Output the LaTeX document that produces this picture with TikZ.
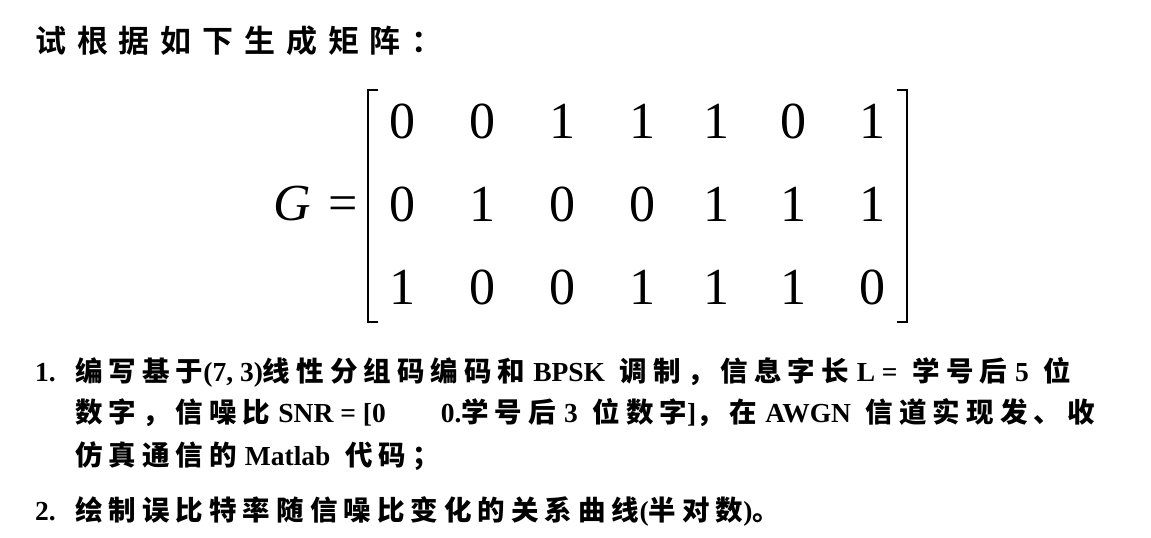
\documentclass[tikz,border=0pt]{standalone}
\usepackage{fontspec}
\setmainfont{Liberation Serif}
\newfontfamily\cjk[LetterSpace=22]{Noto Sans CJK SC Bold}
\newfontfamily\cjkt[LetterSpace=35]{Noto Sans CJK SC Bold}
\newcommand{\zh}[1]{{\cjk #1}}
\newcommand{\gp}{\hspace{8pt}}
\tikzset{line/.style={anchor=base west,inner sep=0,font=\fontsize{27.5}{32}\selectfont\bfseries},
 dig/.style={anchor=base,inner sep=0,font=\fontsize{52}{60}\selectfont}}
\begin{document}
\begin{tikzpicture}[x=1pt,y=-1pt]
\useasboundingbox[fill=white] (0,0) rectangle (1151,538);
\node[line,font=\fontsize{31}{36}\selectfont] (title) at (35,52) {{\cjkt 试根据如下生成矩阵：}};
\node[anchor=base east,inner sep=0,font=\fontsize{52}{60}\selectfont] (G) at (358,220) {\textit{G}\,\,=};
\draw[line width=2.2pt] (378,90) -- (368,90) -- (368,322) -- (378,322);
\draw[line width=2.2pt] (897,90) -- (907,90) -- (907,322) -- (897,322);
\foreach \r [count=\i] in {{0,0,1,1,1,0,1},{0,1,0,0,1,1,1},{1,0,0,1,1,1,0}}{
  \foreach \v [count=\j] in \r {
    \pgfmathsetmacro\xx{{402,482,562,642,716,793,872}[\j-1]}
    \node[dig] (m\i\j) at (\xx,55+\i*83) {\v};
  }}
\node[line] (n1) at (35,381) {1.};
\node[line] (l1) at (75,381) {\zh{编写基于}(7, 3)\zh{线性分组码编码和}\gp BPSK \gp\zh{调制，信息字长}\gp L =\gp\  \zh{学号后}\gp 5 \gp\zh{位}};
\node[line] (l2) at (75,422) {\zh{数字，信噪比}\gp SNR = [0\qquad 0.\zh{学号后}\gp 3 \gp\zh{位数字}]\zh{，在}\gp AWGN \gp\zh{信道实现发、收}};
\node[line] (l3) at (75,465) {\zh{仿真通信的}\gp Matlab \gp\zh{代码；}};
\node[line] (n2) at (35,520) {2.};
\node[line] (l4) at (75,520) {\zh{绘制误比特率随信噪比变化的关系曲线}(\zh{半对数})\zh{。}};
\end{tikzpicture}
\end{document}
